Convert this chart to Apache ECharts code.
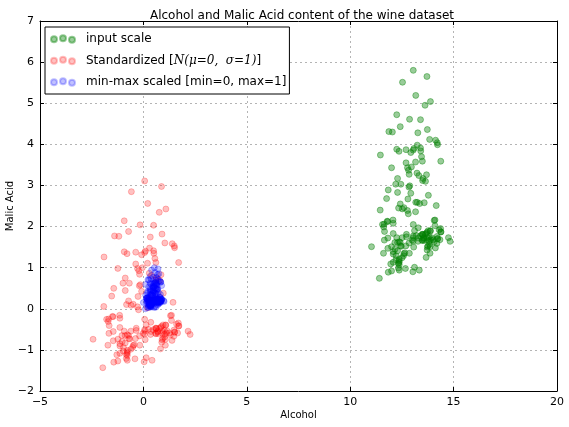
<!DOCTYPE html>
<html>
<head>
<meta charset="utf-8">
<script src="https://cdn.jsdelivr.net/npm/echarts@6/dist/echarts.min.js"></script>
<style>
html,body{margin:0;padding:0;background:#fff;}
#c{width:569px;height:427px;}
</style>
</head>
<body>
<div id="c"></div>
<script>
// Wine dataset: Alcohol (x) and Malic Acid (y), input scale
var alcohol = [14.23,13.2,13.16,14.37,13.24,14.2,14.39,14.06,14.83,13.86,14.1,14.12,13.75,14.75,14.38,13.63,14.3,13.83,14.19,13.64,14.06,12.93,13.71,12.85,13.5,13.05,13.39,13.3,13.87,14.02,13.73,13.58,13.68,13.76,13.51,13.48,13.28,13.05,13.07,14.22,13.56,13.41,13.88,13.24,13.05,14.21,14.38,13.9,14.1,13.94,13.05,13.83,13.82,13.77,13.74,13.56,14.22,13.29,13.72,
12.37,12.33,12.64,13.67,12.37,12.17,12.37,13.11,12.37,13.34,12.21,12.29,13.86,13.49,12.99,11.96,11.66,13.03,11.84,12.33,12.7,12,12.72,12.08,13.05,11.84,12.67,12.16,11.65,11.64,12.08,12.08,12,12.69,12.29,11.62,12.47,11.81,12.29,12.37,12.29,12.08,12.6,12.34,11.82,12.51,12.42,12.25,12.72,12.22,11.61,11.46,12.52,11.76,11.41,12.08,11.03,11.82,12.42,12.77,12,11.45,11.56,12.42,13.05,11.87,12.07,12.43,11.79,12.37,12.04,
12.86,12.88,12.81,12.7,12.51,12.6,12.25,12.53,13.49,12.84,12.93,13.36,13.52,13.62,12.25,13.16,13.88,12.87,13.32,13.08,13.5,12.79,13.11,13.23,12.58,13.17,13.84,12.45,14.34,13.48,12.36,13.69,12.85,12.96,13.78,13.73,13.45,12.82,13.58,13.4,12.2,12.77,14.16,13.71,13.4,13.27,13.17,14.13];
var malicAcid = [1.71,1.78,2.36,1.95,2.59,1.76,1.87,2.15,1.64,1.35,2.16,1.48,1.73,1.73,1.87,1.81,1.92,1.57,1.59,3.1,1.63,3.8,1.86,1.6,1.81,2.05,1.77,1.72,1.9,1.68,1.5,1.66,1.83,1.53,1.8,1.81,1.64,1.65,1.5,3.99,1.71,3.84,1.89,3.98,1.77,4.04,3.59,1.68,2.02,1.73,1.73,1.65,1.75,1.9,1.67,1.73,1.7,1.97,1.43,
0.94,1.1,1.36,1.25,1.13,1.45,1.21,1.01,1.17,0.94,1.19,1.61,1.51,1.66,1.67,1.09,1.88,0.9,2.89,0.99,3.87,0.92,1.81,1.13,3.86,0.89,0.98,1.61,1.67,2.06,1.33,1.83,1.51,1.53,2.83,1.99,1.52,2.12,1.41,1.07,3.17,2.08,1.34,2.45,1.72,1.73,2.55,1.73,1.75,1.29,1.35,3.74,2.43,2.68,0.74,1.39,1.51,1.47,1.61,3.43,3.43,2.4,2.05,4.43,5.8,4.31,2.16,1.53,2.13,1.63,4.3,
1.35,2.99,2.31,3.55,1.24,2.46,4.72,5.51,3.59,2.96,2.81,2.56,3.17,4.95,3.88,3.57,5.04,4.61,3.24,3.9,3.12,2.67,1.9,3.3,1.29,5.19,4.12,3.03,1.68,1.67,3.83,3.26,3.27,3.45,2.76,4.36,3.7,3.37,2.58,4.6,3.03,2.39,2.51,5.65,3.91,4.28,2.59,4.1];

var seriesNames = ['input scale', 'Standardized [N(μ=0, σ=1)]', 'min-max scaled [min=0, max=1]'];
var xTicks = [-5, 0, 5, 10, 15, 20];
var yTicks = [-2, -1, 0, 1, 2, 3, 4, 5, 6, 7];

// The chart's scaled series are the same samples transformed (z-score and min-max)
function mean(a){var s=0;for(var i=0;i<a.length;i++)s+=a[i];return s/a.length;}
function pstd(a){var m=mean(a),s=0;for(var i=0;i<a.length;i++)s+=(a[i]-m)*(a[i]-m);return Math.sqrt(s/a.length);}
function zscore(a){var m=mean(a),sd=pstd(a);return a.map(function(v){return (v-m)/sd;});}
function minmax(a){var lo=Math.min.apply(null,a),hi=Math.max.apply(null,a);return a.map(function(v){return (v-lo)/(hi-lo);});}
function pairs(xs,ys){return xs.map(function(v,i){return [v,ys[i]];});}

var inputData = pairs(alcohol, malicAcid);
var stdData = pairs(zscore(alcohol), zscore(malicAcid));
var mmData = pairs(minmax(alcohol), minmax(malicAcid));

var FONT = 'DejaVu Sans';
var icon = 'path://M0,4.5a3,3 0 1,0 6,0a3,3 0 1,0 -6,0M9,3.5a3,3 0 1,0 6,0a3,3 0 1,0 -6,0M18,5a3,3 0 1,0 6,0a3,3 0 1,0 -6,0';
var colors = ['rgba(0,128,0,0.5)', 'rgba(255,0,0,0.3)', 'rgba(0,0,255,0.3)'];

function minus(v){return String(v).replace('-', '\u2212');}

var gridLine = {show:true, lineStyle:{color:'#b4b4b4', type:[2,3], width:1}};
var chart = echarts.init(document.getElementById('c'), null, {renderer:'canvas'});
chart.setOption({
  animation:false,
  backgroundColor:'#fff',
  title:{text:'Alcohol and Malic Acid content of the wine dataset', left:297, textAlign:'center', top:5,
    textStyle:{fontFamily:FONT, fontSize:12, fontWeight:'normal', color:'#000'}},
  grid:{left:40, right:12, top:21, bottom:36, containLabel:false, outerBoundsMode:'none'},
  legend:{
    orient:'vertical', left:45, top:27, padding:[6,3,6,5], itemGap:9.5,
    backgroundColor:'#fff', borderColor:'#000', borderWidth:1,
    itemWidth:24, itemHeight:8,
    icon:icon,
    data:[
      {name:seriesNames[0], itemStyle:{color:colors[0]}},
      {name:seriesNames[1], itemStyle:{color:colors[1]}},
      {name:seriesNames[2], itemStyle:{color:colors[2]}}
    ],
    formatter:function(n){
      if(n===seriesNames[1]) return 'Standardized [{m|N(μ=0,  σ=1)}]';
      return n;
    },
    textStyle:{fontFamily:FONT, fontSize:12, color:'#000', padding:[0,0,0,6],
      rich:{m:{fontFamily:'DejaVu Serif', fontStyle:'italic', fontSize:12, color:'#000'}}}
  },
  xAxis:[{
    type:'value', min:-5, max:20, interval:5, position:'bottom',
    name:'Alcohol', nameLocation:'middle', nameGap:19, nameMoveOverlap:false,
    nameTextStyle:{fontFamily:FONT, fontSize:10, color:'#000'},
    axisLine:{show:true, onZero:false, lineStyle:{color:'#000', width:1}},
    axisTick:{show:true, inside:true, length:4, lineStyle:{color:'#000'}},
    axisLabel:{fontFamily:FONT, fontSize:11, color:'#000', margin:6,
      formatter:function(v){return xTicks.indexOf(v)>=0?minus(v):'';}},
    splitLine:gridLine
  },{
    type:'value', min:-5, max:20, interval:5, position:'top',
    axisLine:{show:true, onZero:false, lineStyle:{color:'#000', width:1}},
    axisTick:{show:true, inside:true, length:4, lineStyle:{color:'#000'}},
    axisLabel:{show:false}, splitLine:{show:false}
  }],
  yAxis:[{
    type:'value', min:-2, max:7, interval:1, position:'left',
    name:'Malic Acid', nameLocation:'middle', nameGap:25, nameMoveOverlap:false,
    nameTextStyle:{fontFamily:FONT, fontSize:10, color:'#000'},
    axisLine:{show:true, onZero:false, lineStyle:{color:'#000', width:1}},
    axisTick:{show:true, inside:true, length:4, lineStyle:{color:'#000'}},
    axisLabel:{fontFamily:FONT, fontSize:11, color:'#000', margin:6,
      formatter:function(v){return yTicks.indexOf(v)>=0?minus(v):'';}},
    splitLine:gridLine
  },{
    type:'value', min:-2, max:7, interval:1, position:'right',
    axisLine:{show:true, onZero:false, lineStyle:{color:'#000', width:1}},
    axisTick:{show:true, inside:true, length:4, lineStyle:{color:'#000'}},
    axisLabel:{show:false}, splitLine:{show:false}
  }],
  series:[
    {name:seriesNames[0], type:'scatter', data:inputData, symbol:'circle', symbolSize:6,
      itemStyle:{color:colors[0], borderColor:colors[0], borderWidth:1}},
    {name:seriesNames[1], type:'scatter', data:stdData, symbol:'circle', symbolSize:6,
      itemStyle:{color:colors[1], borderColor:colors[1], borderWidth:1}},
    {name:seriesNames[2], type:'scatter', data:mmData, symbol:'circle', symbolSize:6,
      itemStyle:{color:colors[2], borderColor:colors[2], borderWidth:1}}
  ]
});
</script>
</body>
</html>
